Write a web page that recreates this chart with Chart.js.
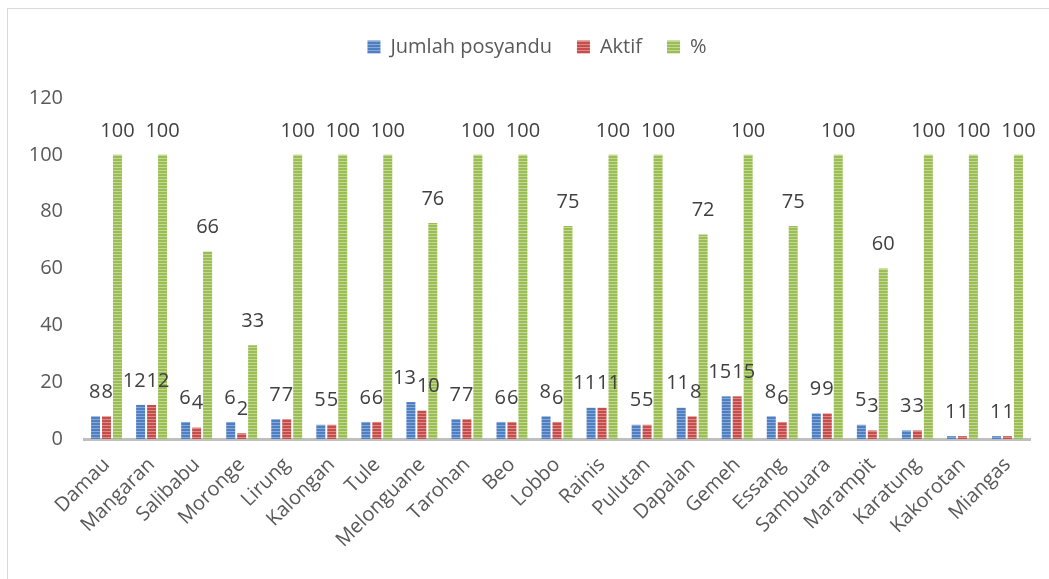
<!DOCTYPE html>
<html>
<head>
<meta charset="utf-8">
<script src="https://cdn.jsdelivr.net/npm/chart.js@4.4.1/dist/chart.umd.min.js"></script>
<style>
  html, body { margin: 0; padding: 0; background: #ffffff; }
  #wrap { position: relative; width: 1049px; height: 579px; }
</style>
</head>
<body>
<div id="wrap"><canvas id="chart"></canvas></div>
<script>
const categories = ['Damau', 'Mangaran', 'Salibabu', 'Moronge', 'Lirung', 'Kalongan', 'Tule',
  'Melonguane', 'Tarohan', 'Beo', 'Lobbo', 'Rainis', 'Pulutan', 'Dapalan', 'Gemeh', 'Essang',
  'Sambuara', 'Marampit', 'Karatung', 'Kakorotan', 'Miangas'];
const jumlahPosyandu = [8, 12, 6, 6, 7, 5, 6, 13, 7, 6, 8, 11, 5, 11, 15, 8, 9, 5, 3, 1, 1];
const aktif = [8, 12, 4, 2, 7, 5, 6, 10, 7, 6, 6, 11, 5, 8, 15, 6, 9, 3, 3, 1, 1];
const persen = [100, 100, 66, 33, 100, 100, 100, 76, 100, 100, 75, 100, 100, 72, 100, 75, 100, 60, 100, 100, 100];
const yTicks = [0, 20, 40, 60, 80, 100, 120];

const FONT = '"Open Sans", "DejaVu Sans", sans-serif';

// striped fill like the Excel texture
function stripes(base, light) {
  const c = document.createElement('canvas');
  c.width = 4; c.height = 3;
  const g = c.getContext('2d');
  g.fillStyle = base; g.fillRect(0, 0, 4, 3);
  g.fillStyle = light; g.fillRect(0, 2, 4, 1);
  return g.createPattern(c, 'repeat');
}

const blueFill = stripes('#4f7fc0', '#86a9dc');
const redFill = stripes('#c44e4b', '#e08a88');
const greenFill = stripes('#9bbd56', '#c2d98f');

// outer frame
const framePlugin = {
  id: 'frame',
  beforeDraw(chart) {
    const ctx = chart.ctx;
    ctx.save();
    ctx.strokeStyle = '#d9d9d9';
    ctx.lineWidth = 1;
    ctx.strokeRect(7.5, 8.5, 1200, 700);
    ctx.restore();
  }
};

// extra room between legend and plot, legend nudged right
const legendGap = {
  id: 'legendGap',
  beforeInit(chart) {
    const fit = chart.legend.fit;
    chart.legend.fit = function () {
      fit.call(this);
      this.height += 31;
    };
  },
  afterLayout(chart) {
    chart.legend.left += 12;
    chart.legend.right += 12;
  }
};

// value labels above the bars, pushed apart when neighbours collide
const valueLabels = {
  id: 'valueLabels',
  afterDatasetsDraw(chart) {
    const ctx = chart.ctx;
    ctx.save();
    ctx.font = '20px ' + FONT;
    ctx.fillStyle = '#404040';
    ctx.textAlign = 'center';
    ctx.textBaseline = 'middle';
    const m0 = chart.getDatasetMeta(0);
    const m1 = chart.getDatasetMeta(1);
    const m2 = chart.getDatasetMeta(2);
    categories.forEach((_, i) => {
      const a = m0.data[i], b = m1.data[i], c = m2.data[i];
      const ta = String(jumlahPosyandu[i]), tb = String(aktif[i]);
      const wa = ctx.measureText(ta).width, wb = ctx.measureText(tb).width;
      let xa = a.x, xb = b.x;
      const ya = a.y - 24, yb = b.y - 24;
      if (Math.abs(ya - yb) < 20) {
        const need = (wa + wb) / 2 + 1;
        if (xb - xa < need) {
          const mid = (xa + xb) / 2;
          xa = mid - need / 2;
          xb = mid + need / 2;
        }
      }
      ctx.fillText(ta, xa, ya);
      ctx.fillText(tb, xb, yb);
      ctx.fillText(String(persen[i]), c.x, c.y - 24);
    });
    ctx.restore();
  }
};

new Chart(document.getElementById('chart'), {
  type: 'bar',
  data: {
    labels: categories,
    datasets: [
      { label: 'Jumlah posyandu', data: jumlahPosyandu, backgroundColor: blueFill },
      { label: 'Aktif', data: aktif, backgroundColor: redFill },
      { label: '%', data: persen, backgroundColor: greenFill }
    ]
  },
  options: {
    responsive: true,
    maintainAspectRatio: false,
    animation: false,
    datasets: { bar: { barPercentage: 0.82, categoryPercentage: 0.73 } },
    layout: { padding: { left: 20, right: 19, top: 12, bottom: 0 } },
    scales: {
      x: {
        grid: { display: false, drawTicks: false },
        border: { display: true, color: '#bfbfbf', width: 3 },
        ticks: {
          autoSkip: false,
          maxRotation: 45,
          minRotation: 45,
          padding: 14,
          color: '#595959',
          font: { family: FONT, size: 20 }
        },
        afterFit: (s) => { s.height = 140; }
      },
      y: {
        min: 0,
        max: 120,
        grid: { display: false, drawTicks: false },
        border: { display: false },
        afterBuildTicks: (s) => { s.ticks = yTicks.map((v) => ({ value: v })); },
        ticks: {
          padding: 21,
          color: '#595959',
          font: { family: FONT, size: 20 }
        },
        afterFit: (s) => { s.width = 64; }
      }
    },
    plugins: {
      legend: {
        position: 'top',
        labels: {
          boxWidth: 13,
          boxHeight: 13,
          padding: 25,
          color: '#595959',
          font: { family: FONT, size: 20 }
        }
      },
      tooltip: { enabled: false }
    }
  },
  plugins: [framePlugin, legendGap, valueLabels]
});
</script>
</body>
</html>
